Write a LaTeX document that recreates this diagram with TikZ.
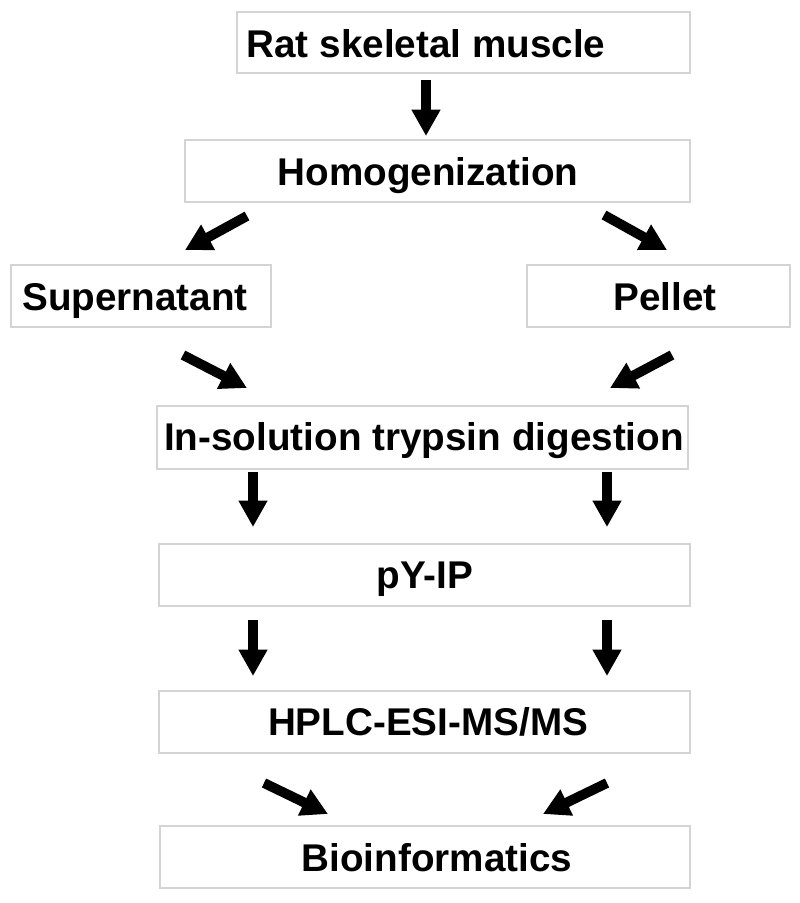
\documentclass[tikz,border=0pt]{standalone}
\usepackage{fontspec}
\setmainfont{Liberation Sans}
\usetikzlibrary{arrows.meta, positioning}

\definecolor{boxgray}{RGB}{212,212,212}

\begin{document}
\begin{tikzpicture}[x=0.02cm, y=-0.02cm,
		box/.style={draw=boxgray, line width=0.8pt, rectangle, inner sep=0pt},
		lbl/.style={inner sep=0pt, yshift=-5pt, font=\fontsize{22}{26}\selectfont\bfseries, text height=0.74em, text depth=0.2em},
		flow/.style={line width=5.6pt, -{Triangle[length=15pt, width=15.5pt]}}]

		\useasboundingbox (0,0) rectangle (800,903);

		% Boxes
		\begin{scope}
			\node (rsm) at (463.5,42.5) [box, minimum width=9.06cm, minimum height=1.22cm] {};
			\node (homog) at (437.5,171) [box, minimum width=10.1cm, minimum height=1.24cm] {};
			\node (super) at (141,296) [box, minimum width=5.2cm, minimum height=1.24cm] {};
			\node (pellet) at (658.5,296) [box, minimum width=5.26cm, minimum height=1.24cm] {};
			\node (insol) at (422.5,437.5) [box, minimum width=10.62cm, minimum height=1.26cm] {};
			\node (pyip) at (424.5,575) [box, minimum width=10.62cm, minimum height=1.24cm] {};
			\node (hplc) at (424.5,722) [box, minimum width=10.62cm, minimum height=1.24cm] {};
			\node (bioinf) at (425,857) [box, minimum width=10.6cm, minimum height=1.24cm] {};
		\end{scope}

		% Labels
		\begin{scope}
			\node (rsm_t) at (426,44) [lbl] {Rat skeletal muscle};
			\node (homog_t) at (428,172) [lbl] {Homogenization};
			\node (super_t) at (135,297) [lbl] {Supernatant};
			\node (pellet_t) at (665,297) [lbl] {Pellet};
			\node (insol_t) at (424,437) [lbl] {In-solution trypsin digestion};
			\node (pyip_t) at (425,575) [lbl] {pY-IP};
			\node (hplc_t) at (428,722) [lbl] {HPLC-ESI-MS/MS};
			\node (bioinf_t) at (437,858) [lbl] {Bioinformatics};
		\end{scope}

		% Arrow ends
		\begin{scope}
			\coordinate (a1s) at (426,80);   \coordinate (a1e) at (426,136);
			\coordinate (a2s) at (247,216);  \coordinate (a2e) at (185,250);
			\coordinate (a3s) at (604,215);  \coordinate (a3e) at (667,250);
			\coordinate (a4s) at (183,355);  \coordinate (a4e) at (247,388);
			\coordinate (a5s) at (672,355);  \coordinate (a5e) at (610,388);
			\coordinate (a6s) at (253,472);  \coordinate (a6e) at (253,527);
			\coordinate (a7s) at (607,472);  \coordinate (a7e) at (607,527);
			\coordinate (a8s) at (253,620);  \coordinate (a8e) at (253,676);
			\coordinate (a9s) at (607,620);  \coordinate (a9e) at (607,676);
			\coordinate (a10s) at (264,783); \coordinate (a10e) at (328,814);
			\coordinate (a11s) at (607,783); \coordinate (a11e) at (543,814);
		\end{scope}

		\draw[flow] (a1s) -- (a1e);
		\draw[flow] (a2s) -- (a2e);
		\draw[flow] (a3s) -- (a3e);
		\draw[flow] (a4s) -- (a4e);
		\draw[flow] (a5s) -- (a5e);
		\draw[flow] (a6s) -- (a6e);
		\draw[flow] (a7s) -- (a7e);
		\draw[flow] (a8s) -- (a8e);
		\draw[flow] (a9s) -- (a9e);
		\draw[flow] (a10s) -- (a10e);
		\draw[flow] (a11s) -- (a11e);

	\end{tikzpicture}
\end{document}
